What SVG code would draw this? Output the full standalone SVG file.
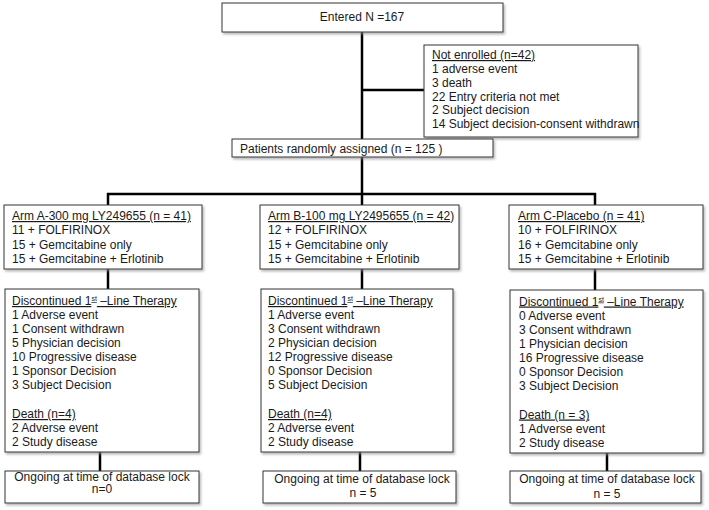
<svg xmlns="http://www.w3.org/2000/svg" width="709" height="510" viewBox="0 0 709 510">
<defs>
<filter id="sh" x="-5%" y="-5%" width="115%" height="130%">
<feDropShadow dx="1.5" dy="2" stdDeviation="1" flood-color="#888" flood-opacity="0.6"/>
</filter>
</defs>
<style>
rect.box{fill:#fff;stroke:#333;stroke-width:1;filter:url(#sh)}
text{font-family:"Liberation Sans",Arial,sans-serif;font-size:12px;fill:#1a1a1a}
.u{text-decoration:underline}
.c{text-anchor:middle}
.sup{font-size:7px}
#connectors line{stroke:#000;stroke-width:2.5}
</style>
<rect width="709" height="510" fill="#fff"/>
<g id="connectors">
<line x1="362" y1="32" x2="362" y2="139"/>
<line x1="362" y1="90" x2="424" y2="90"/>
<line x1="362" y1="157" x2="362" y2="195"/>
<line x1="107" y1="194" x2="596" y2="194"/>
<line x1="108" y1="193" x2="108" y2="205"/>
<line x1="362" y1="193" x2="362" y2="205"/>
<line x1="595" y1="193" x2="595" y2="205"/>
<line x1="108" y1="269" x2="108" y2="289"/>
<line x1="362" y1="269" x2="362" y2="289"/>
<line x1="595" y1="269" x2="595" y2="290"/>
<line x1="100" y1="452" x2="100" y2="471"/>
<line x1="360" y1="452" x2="360" y2="471"/>
<line x1="607" y1="453" x2="607" y2="471"/>
</g>
<g id="entered">
<rect class="box" x="222" y="3" width="281" height="29"/>
<text class="c" x="362" y="21">Entered N =167</text>
</g>
<g id="not-enrolled">
<rect class="box" x="424" y="45" width="214" height="92"/>
<text x="432" y="59" class="u">Not enrolled (n=42)</text>
<text x="432" y="73">1 adverse event</text>
<text x="432" y="86.5">3 death</text>
<text x="432" y="100.5">22 Entry criteria not met</text>
<text x="432" y="114">2 Subject decision</text>
<text x="432" y="128">14 Subject decision-consent withdrawn</text>
</g>
<g id="randomized">
<rect class="box" x="232" y="139" width="261" height="18"/>
<text x="240" y="152.5">Patients randomly assigned (n = 125 )</text>
</g>
<g id="arm-a">
<rect class="box" x="4" y="205" width="198" height="64"/>
<text x="12" y="220" class="u">Arm A-300 mg LY249655  (n = 41)</text>
<text x="12" y="234.3">11 + FOLFIRINOX</text>
<text x="12" y="248.6">15 + Gemcitabine only</text>
<text x="12" y="263">15 + Gemcitabine + Erlotinib</text>
</g>
<g id="arm-b">
<rect class="box" x="260" y="205" width="199" height="64"/>
<text x="268" y="220"><tspan class="u">Arm B-100 mg LY2495655  (n = 42</tspan>)</text>
<text x="268" y="234.3">12 + FOLFIRINOX</text>
<text x="268" y="248.6">15 + Gemcitabine only</text>
<text x="268" y="263">15 + Gemcitabine + Erlotinib</text>
</g>
<g id="arm-c">
<rect class="box" x="509" y="205" width="194" height="64"/>
<text x="518" y="220" class="u">Arm C-Placebo (n = 41)</text>
<text x="518" y="234.3">10 + FOLFIRINOX</text>
<text x="518" y="248.6">16 + Gemcitabine only</text>
<text x="518" y="263">15 + Gemcitabine + Erlotinib</text>
</g>
<g id="disc-a">
<rect class="box" x="5" y="289" width="194" height="163"/>
<text x="12" y="305" class="u">Discontinued 1<tspan class="sup" dy="-4">st</tspan><tspan dy="4"> –Line Therapy</tspan></text>
<text x="12" y="319">1 Adverse event</text>
<text x="12" y="333.2">1 Consent withdrawn</text>
<text x="12" y="347.4">5 Physician decision</text>
<text x="12" y="361.4">10 Progressive disease</text>
<text x="12" y="375.4">1 Sponsor Decision</text>
<text x="12" y="389.4">3 Subject Decision</text>
<text x="12" y="418" class="u">Death (n=4)</text>
<text x="12" y="432">2 Adverse event</text>
<text x="12" y="446">2 Study disease</text>
</g>
<g id="disc-b">
<rect class="box" x="261" y="289" width="192" height="163"/>
<text x="268" y="305" class="u">Discontinued 1<tspan class="sup" dy="-4">st</tspan><tspan dy="4"> –Line Therapy</tspan></text>
<text x="268" y="319">1 Adverse event</text>
<text x="268" y="333.2">3 Consent withdrawn</text>
<text x="268" y="347.4">2 Physician decision</text>
<text x="268" y="361.4">12 Progressive disease</text>
<text x="268" y="375.4">0 Sponsor Decision</text>
<text x="268" y="389.4">5 Subject Decision</text>
<text x="268" y="418" class="u">Death (n=4)</text>
<text x="268" y="432">2 Adverse event</text>
<text x="268" y="446">2 Study disease</text>
</g>
<g id="disc-c">
<rect class="box" x="510" y="290" width="193" height="163"/>
<text x="519" y="305.5" class="u">Discontinued 1<tspan class="sup" dy="-4">st</tspan><tspan dy="4"> –Line Therapy</tspan></text>
<text x="519" y="319.5">0 Adverse event</text>
<text x="519" y="333.7">3 Consent withdrawn</text>
<text x="519" y="347.9">1 Physician decision</text>
<text x="519" y="361.9">16 Progressive disease</text>
<text x="519" y="375.9">0 Sponsor Decision</text>
<text x="519" y="389.9">3 Subject Decision</text>
<text x="519" y="418.5" class="u">Death (n = 3)</text>
<text x="519" y="432.5">1 Adverse event</text>
<text x="519" y="446.5">2 Study disease</text>
</g>
<g id="ongoing-a">
<rect class="box" x="5" y="471" width="194" height="32"/>
<text class="c" x="102" y="480.5">Ongoing at time of database lock</text>
<text class="c" x="102" y="493">n=0</text>
</g>
<g id="ongoing-b">
<rect class="box" x="263" y="471" width="193" height="32"/>
<text class="c" x="362" y="483">Ongoing at time of database lock</text>
<text class="c" x="363" y="497">n = 5</text>
</g>
<g id="ongoing-c">
<rect class="box" x="510" y="471" width="191" height="32"/>
<text class="c" x="607" y="483">Ongoing at time of database lock</text>
<text class="c" x="607" y="498">n = 5</text>
</g>
</svg>
